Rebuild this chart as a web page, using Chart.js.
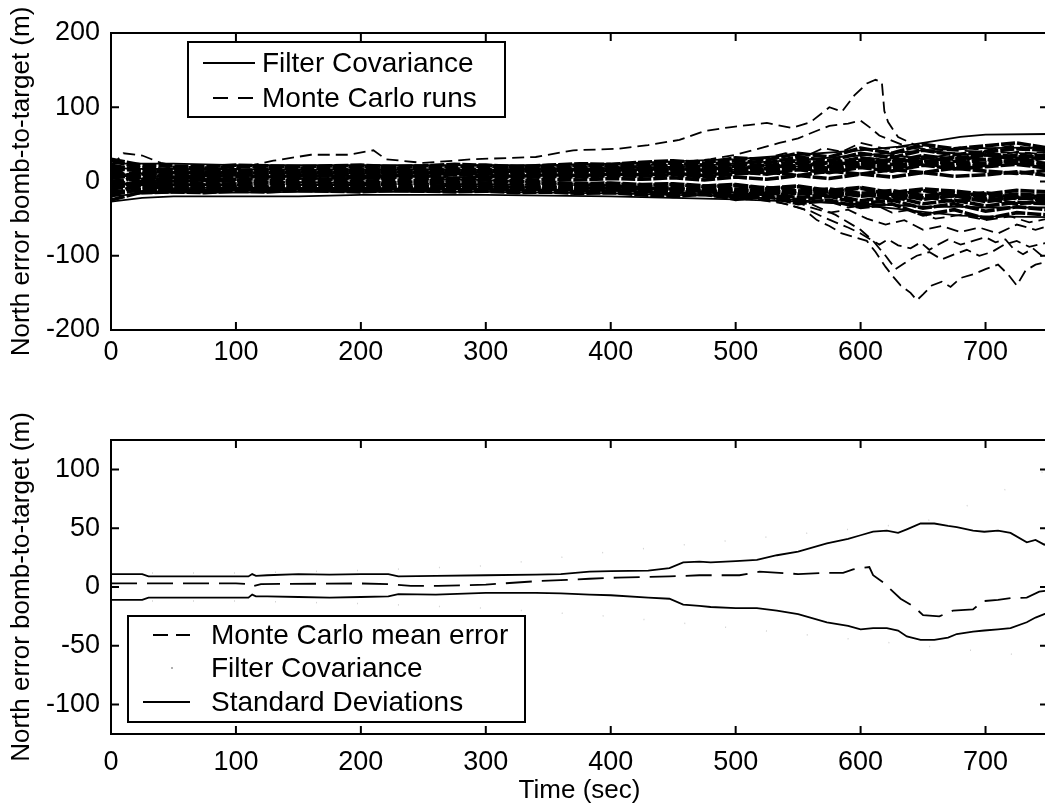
<!DOCTYPE html>
<html lang="en">
<head>
<meta charset="UTF-8">
<title>North error bomb-to-target</title>
<script src="https://cdn.jsdelivr.net/npm/chart.js@4.4.1/dist/chart.umd.min.js"></script>
<style>
  html, body { margin: 0; padding: 0; background: #fff; overflow: hidden; }
  canvas { position: absolute; left: 0; }
  #topChart { top: 0; }
  #bottomChart { top: 380px; }
</style>
</head>
<body>
<canvas id="topChart" width="1060" height="380"></canvas>
<canvas id="bottomChart" width="1060" height="429"></canvas>

<script>
// ---------- axes ----------
const X_TICKS = [0, 100, 200, 300, 400, 500, 600, 700];
const Y_TICKS_TOP = [-200, -100, 0, 100, 200];
const Y_TICKS_BOTTOM = [-100, -50, 0, 50, 100];

// ---------- top panel: Monte Carlo runs (dashed) ----------
// band runs, sampled every 25 s
const T_BAND = [0,25,50,75,100,125,150,175,200,225,250,275,300,325,350,375,400,425,450,475,500,525,550,575,600,625,650,675,700,725,750];
const RUN_01 = [22,15,12,10,11,9,10,12,11,9, 10,12,11,13,12,14,13,15,17,14, 19,16,22,18,25,20,28,24,30,26, 32];
const RUN_02 = [-18,-10,-8,-9,-7,-8,-6,-7,-8,-6, -7,-5,-6,-8,-7,-9,-8,-10,-12,-9, -14,-11,-17,-13,-20,-16,-24,-19,-27,-22, -25];
const RUN_03 = [10,6,4,5,3,4,5,3,4,6, 5,4,6,5,7,6,8,7,9,6, 10,13,8,14,10,16,12,18,14,11, 15];
const RUN_04 = [-8,-3,-2,-4,-3,-1,-2,-3,-1,-2, 0,-1,-2,0,-1,-3,-2,-4,-3,-6, -4,-9,-6,-12,-8,-15,-10,-13,-17,-12, -14];
const RUN_05 = [28,18,16,17,15,16,14,15,17,16, 15,17,16,18,17,19,18,20,22,19, 24,21,28,24,32,27,35,30,38,33, 36];
const RUN_06 = [-25,-14,-12,-13,-11,-12,-10,-11,-12,-10, -11,-9,-10,-11,-10,-12,-11,-13,-15,-12, -18,-14,-22,-17,-26,-20,-30,-25,-33,-28, -30];
const RUN_07 = [5,9,8,7,9,8,10,9,8,10, 9,11,10,9,11,10,12,11,13,10, 15,12,18,14,21,17,24,19,22,25, 20];
const RUN_08 = [0,-5,-6,-5,-7,-6,-5,-7,-6,-5, -6,-7,-5,-6,-4,-6,-5,-7,-8,-6, -10,-8,-13,-10,-16,-12,-19,-15,-21,-17, -19];
const RUN_09 = [15,2,1,2,0,1,2,1,0,2, 1,3,2,1,3,2,4,3,5,2, 6,3,8,4,10,6,12,7,9,13, 8];
const RUN_10 = [-12,3,12,13,11,12,13,12,14,13, 12,14,13,15,14,16,15,17,18,15, 21,17,25,20,29,23,33,27,36,30, 33];
const RUN_11 = [20,-4,-11,-12,-10,-9,-11,-10,-9,-11, -10,-12,-11,-13,-12,-14,-13,-15,-17,-14, -20,-16,-25,-20,-30,-25,-36,-30,-40,-34, -38];
const RUN_12 = [-5,10,19,18,20,19,18,19,20,18, 19,20,21,19,20,22,21,23,25,22, 28,25,33,28,38,32,42,36,40,44, 42];
const RUN_13 = [12,-1,-3,-2,-4,-3,-2,-4,-3,-2, -3,-1,-2,-3,-2,-4,-3,-5,-4,-7, -5,-10,-7,-14,-9,-18,-12,-20,-15,-23, -18];
const RUN_14 = [-20,0,6,8,7,6,8,7,6,8, 7,9,8,7,9,8,10,9,11,8, 13,10,16,12,19,14,22,17,20,23, 18];
const RUN_15 = [8,-15,-14,-15,-13,-14,-12,-13,-14,-12, -13,-14,-13,-15,-14,-16,-15,-18,-20,-17, -24,-20,-30,-25,-35,-30,-45,-38,-50,-42, -45];
const RUN_16 = [30,22,21,20,22,21,20,21,22,20, 21,23,22,20,22,24,23,26,28,25, 32,29,38,33,45,38,50,44,48,52, 45];
const RUN_17 = [-14,-12,-10,-11,-9,-10,-9,-8,-10,-9, -8,-9,-10,-9,-8,-10,-9,-11,-10,-13, -11,-16,-13,-20,-16,-24,-20,-27,-23,-30, -26];
const RUN_18 = [18,14,15,13,14,15,13,14,15,14, 13,15,14,16,15,14,16,15,17,19, 16,22,19,26,22,30,26,33,29,36, 31];
const RUN_19 = [-2,-8,-9,-8,-9,-8,-9,-9,-8,-9, -8,-9,-8,-9,-9,-8,-9,-10,-9,-11, -13,-12,-16,-14,-19,-17,-22,-19,-25,-21, -23];
const RUN_20 = [6,12,11,12,13,11,12,11,12,11, 12,11,12,11,12,13,12,13,14,12, 16,14,19,16,23,19,27,22,25,29, 24];

// outlying runs, each with its own time samples
const HIGH_A_T = [0,10,25,40,60,100,130,160,190,210,220,250,290,340,370,405,430,455,475,495,510,525,545,560,575,585,595,605,612,617,619,622,630,645,670,700,730,750];
const HIGH_A   = [20,38,35,25,18,17,28,36,36,42,30,25,30,33,42,44,49,56,68,73,76,79,72,80,100,94,116,132,137,134,95,80,60,48,42,40,38,40];
const HIGH_B_T = [0,100,200,300,400,450,480,500,520,535,550,560,575,590,600,608,615,625,640,660,700,750];
const HIGH_B   = [-5,5,8,12,18,25,30,36,45,52,58,65,75,78,82,72,62,55,45,40,35,30];
const UP_A_T = [0,150,300,450,500,520,540,555,570,585,600,620,640,660,680,700,720,740,750];
const UP_A   = [12,10,12,16,22,30,38,33,45,40,52,44,48,40,46,42,48,44,45];
const UP_B_T = [0,150,300,450,500,525,550,575,600,625,650,675,700,725,750];
const UP_B   = [-2,4,6,10,16,22,20,30,26,36,30,38,33,40,36];
const LOW_A_T = [0,100,200,300,400,450,480,500,520,540,555,565,575,585,595,605,612,620,626,632,640,645,650,657,665,672,680,690,700,710,718,725,732,740,750];
const LOW_A   = [-10,-8,-9,-10,-12,-15,-18,-22,-25,-30,-38,-52,-60,-70,-75,-80,-95,-115,-128,-140,-150,-160,-152,-140,-135,-142,-130,-125,-118,-112,-125,-140,-120,-112,-108];
const LOW_B_T = [0,100,200,300,400,450,480,500,520,535,550,560,570,580,590,600,608,615,622,630,640,648,655,662,670,680,690,700,708,716,722,730,738,745,750];
const LOW_B   = [5,3,4,2,-5,-10,-14,-18,-22,-28,-35,-40,-48,-55,-62,-70,-78,-85,-78,-86,-90,-82,-92,-85,-78,-85,-80,-75,-82,-78,-90,-98,-90,-100,-95];
const LOW_C_T = [0,200,400,470,500,530,560,580,600,610,620,628,635,645,655,665,675,685,695,705,715,725,735,750];
const LOW_C   = [-3,-5,-8,-12,-15,-20,-30,-45,-65,-80,-100,-118,-110,-100,-95,-105,-98,-92,-100,-95,-85,-80,-88,-82];
const LOW_D_T = [0,200,400,460,500,520,540,560,575,590,605,620,635,650,665,680,695,710,725,740,750];
const LOW_D   = [2,-2,-6,-10,-20,-25,-22,-35,-42,-38,-50,-58,-52,-65,-60,-68,-62,-70,-58,-65,-60];
const LOW_E_T = [0,200,400,480,520,545,570,590,610,625,640,660,680,700,720,735,750];
const LOW_E   = [-6,-4,-10,-12,-18,-28,-25,-35,-30,-42,-38,-50,-45,-52,-47,-55,-50];

// filter covariance bounds (solid)
const COV_T = [0,25,50,100,150,200,250,300,350,400,450,500,550,600,630,650,680,700,750];
const COV_A_UP = [24,24,24,22,22,22,22,22,22,24,27,30,36,42,47,52,60,63,64];
const COV_A_LO = [-27,-22,-20,-20,-20,-18,-18,-18,-19,-20,-22,-24,-27,-30,-32,-34,-34,-35,-35];
const COV_B_UP = [18,17,17,16,16,16,16,16,17,18,20,24,29,35,39,42,44,45,46];
const COV_B_LO = [-20,-16,-15,-15,-14,-14,-14,-14,-15,-16,-18,-20,-25,-32,-37,-41,-46,-47,-48];

// ---------- bottom panel ----------
const STD_T = [0,25,30,110,113,116,125,150,175,200,222,230,260,300,340,360,383,400,430,447,458,471,480,500,517,533,550,573,590,600,610,621,630,637,648,659,670,677,690,699,710,720,733,740,747,750];
const STD_UP = [11,11,9,9,11,9.5,10,11,10.5,11,11,9,9.5,10,10.5,11,13,13.5,14,16,21,21.5,21,22,23,27,30,37,41,44,47,48,46,49,54,54,52,51,48,47,48,46,38,40,36,37];
const STD_LO = [-11,-11,-9,-9,-6.5,-8,-8,-8.5,-9,-8.5,-8,-6,-6.5,-5,-5,-5.5,-6.5,-7,-9,-10,-15,-16,-17,-18,-18,-20,-23,-30,-33,-36,-35,-35,-37,-42,-45,-45,-43,-40,-38,-37,-36,-35,-30,-26,-23,-22];
const MEAN_T = [0,100,110,113,120,200,222,240,262,300,341,365,383,405,447,471,503,519,535,550,570,586,594,607,610,618,624,632,643,650,663,674,690,698,710,720,733,743,750];
const MEAN_ERR = [3,3,2.5,0.5,2.5,3,2.5,1,1,2,5,6,7,8,9,10,10,13,12,11,12,12,15,17,10,4,-2,-10,-17,-24,-25,-20,-19,-12,-11,-9.5,-9,-4,-3];
const FILT_T = [0,100,200,300,400,450,500,550,600,650,700,750];
const FILT_UP = [12,12,14,18,30,35,40,45,50,55,75,100];
const FILT_LO = [-12,-12,-14,-18,-25,-30,-35,-40,-45,-50,-55,-60];

// ---------- helpers ----------
const FONT = "'Liberation Sans', Arial, Helvetica, sans-serif";
Chart.defaults.font.family = FONT;
Chart.defaults.color = '#000';

function pts(t, v) {
  return t.map((x, i) => ({ x: x, y: v[i] }));
}

function line(t, v, dash, width, color) {
  return {
    data: pts(t, v),
    borderColor: color || '#000',
    borderWidth: width || 1.8,
    borderDash: dash || [],
    pointRadius: 0,
    tension: 0,
    fill: false
  };
}

// box around the axes with inward ticks
const boxAxes = {
  id: 'boxAxes',
  afterDatasetsDraw(chart) {
    const { ctx, chartArea: a, scales } = chart;
    const x = scales.x, y = scales.y;
    ctx.save();
    ctx.setLineDash([]);
    ctx.strokeStyle = '#000';
    ctx.lineWidth = 2;
    ctx.strokeRect(a.left, a.top, a.right - a.left, a.bottom - a.top);
    ctx.beginPath();
    x.ticks.forEach(t => {
      const p = x.getPixelForValue(t.value);
      ctx.moveTo(p, a.bottom); ctx.lineTo(p, a.bottom - 8);
      ctx.moveTo(p, a.top); ctx.lineTo(p, a.top + 8);
    });
    y.ticks.forEach(t => {
      const p = y.getPixelForValue(t.value);
      ctx.moveTo(a.left, p); ctx.lineTo(a.left + 8, p);
      ctx.moveTo(a.right, p); ctx.lineTo(a.right - 8, p);
    });
    ctx.stroke();
    ctx.restore();
  }
};

// matlab-style legend box inside the axes
const legendBox = {
  id: 'legendBox',
  afterDraw(chart, args, opts) {
    if (!opts.box) return;
    const ctx = chart.ctx;
    const [x0, y0, x1, y1] = opts.box;
    ctx.save();
    ctx.setLineDash([]);
    ctx.fillStyle = '#fff';
    ctx.fillRect(x0, y0, x1 - x0, y1 - y0);
    ctx.strokeStyle = '#000';
    ctx.lineWidth = 2;
    ctx.strokeRect(x0, y0, x1 - x0, y1 - y0);
    ctx.font = '28px ' + FONT;
    ctx.textBaseline = 'middle';
    ctx.textAlign = 'left';
    opts.items.forEach(it => {
      const ds = chart.data.datasets[it.dataset];
      ctx.strokeStyle = it.color || ds.borderColor;
      ctx.lineWidth = 1.8;
      ctx.setLineDash(it.dash || []);
      ctx.beginPath();
      ctx.moveTo(it.from, it.y);
      ctx.lineTo(it.to, it.y);
      ctx.stroke();
      ctx.setLineDash([]);
      ctx.fillStyle = '#000';
      ctx.fillText(it.label, it.textX, it.y + 1);
    });
    ctx.restore();
  }
};

function setTicks(list) {
  return scale => { scale.ticks = list.map(v => ({ value: v })); };
}

function options(yMin, yMax, yTicks, xHeight, xPad, xTitle, padTop, legend) {
  return {
    responsive: false,
    animation: false,
    devicePixelRatio: 1,
    layout: { padding: { top: padTop, right: 12, left: 0, bottom: 0 } },
    plugins: { legend: { display: false }, tooltip: { enabled: false }, legendBox: legend },
    scales: {
      x: {
        type: 'linear', min: 0, max: 750,
        afterBuildTicks: setTicks(X_TICKS),
        afterFit: s => { s.height = xHeight; },
        grid: { display: false, drawTicks: false },
        border: { display: false },
        ticks: { font: { size: 27 }, padding: xPad, maxRotation: 0 },
        title: { display: !!xTitle, text: xTitle || '', font: { size: 26 }, padding: { top: 0, bottom: 3 } }
      },
      y: {
        type: 'linear', min: yMin, max: yMax,
        afterBuildTicks: setTicks(yTicks),
        afterFit: s => { s.width = 111; },
        grid: { display: false, drawTicks: false },
        border: { display: false },
        ticks: { font: { size: 27 }, padding: 11 },
        title: { display: true, text: 'North error bomb-to-target (m)', font: { size: 26 }, padding: { top: 6, bottom: 0 } }
      }
    }
  };
}

// ---------- top chart ----------
const bandRuns = [RUN_01, RUN_02, RUN_03, RUN_04, RUN_05, RUN_06, RUN_07, RUN_08, RUN_09, RUN_10,
                  RUN_11, RUN_12, RUN_13, RUN_14, RUN_15, RUN_16, RUN_17, RUN_18, RUN_19, RUN_20];
const topSets = [
  line(COV_T, COV_A_UP), line(COV_T, COV_A_LO),
  line(COV_T, COV_B_UP), line(COV_T, COV_B_LO)
];
bandRuns.forEach(r => topSets.push(line(T_BAND, r, [14, 2], 3.6)));
[[HIGH_A_T, HIGH_A], [HIGH_B_T, HIGH_B], [UP_A_T, UP_A], [UP_B_T, UP_B],
 [LOW_A_T, LOW_A], [LOW_B_T, LOW_B], [LOW_C_T, LOW_C], [LOW_D_T, LOW_D], [LOW_E_T, LOW_E]]
  .forEach(p => topSets.push(line(p[0], p[1], [12, 6], 1.8)));

new Chart(document.getElementById('topChart'), {
  type: 'line',
  data: { datasets: topSets },
  options: options(-200, 200, Y_TICKS_TOP, 50, 6, null, 33, {
    box: [188, 42, 505, 117],
    items: [
      { dataset: 0, label: 'Filter Covariance', from: 203, to: 255, y: 63, textX: 262 },
      { dataset: 4, label: 'Monte Carlo runs', from: 213, to: 255, y: 98, textX: 262, dash: [15, 10] }
    ]
  }),
  plugins: [boxAxes, legendBox]
});

// ---------- bottom chart ----------
const bottomSets = [
  line(FILT_T, FILT_UP, [1, 40], 1.5, '#d4d4d4'),
  line(FILT_T, FILT_LO, [1, 40], 1.5, '#d4d4d4'),
  line(STD_T, STD_UP, [], 1.8),
  line(STD_T, STD_LO, [], 1.8),
  line(MEAN_T, MEAN_ERR, [26, 10], 1.8)
];

new Chart(document.getElementById('bottomChart'), {
  type: 'line',
  data: { datasets: bottomSets },
  options: options(-125, 125, Y_TICKS_BOTTOM, 75, 12, 'Time (sec)', 60, {
    box: [128, 236, 525, 342],
    items: [
      { dataset: 4, label: 'Monte Carlo mean error', from: 153, to: 190, y: 255, textX: 211, dash: [15, 8] },
      { dataset: 0, label: 'Filter Covariance', from: 171, to: 173, y: 288, textX: 211, color: '#b0b0b0' },
      { dataset: 2, label: 'Standard Deviations', from: 143, to: 190, y: 322, textX: 211 }
    ]
  }),
  plugins: [boxAxes, legendBox]
});
</script>
</body>
</html>
